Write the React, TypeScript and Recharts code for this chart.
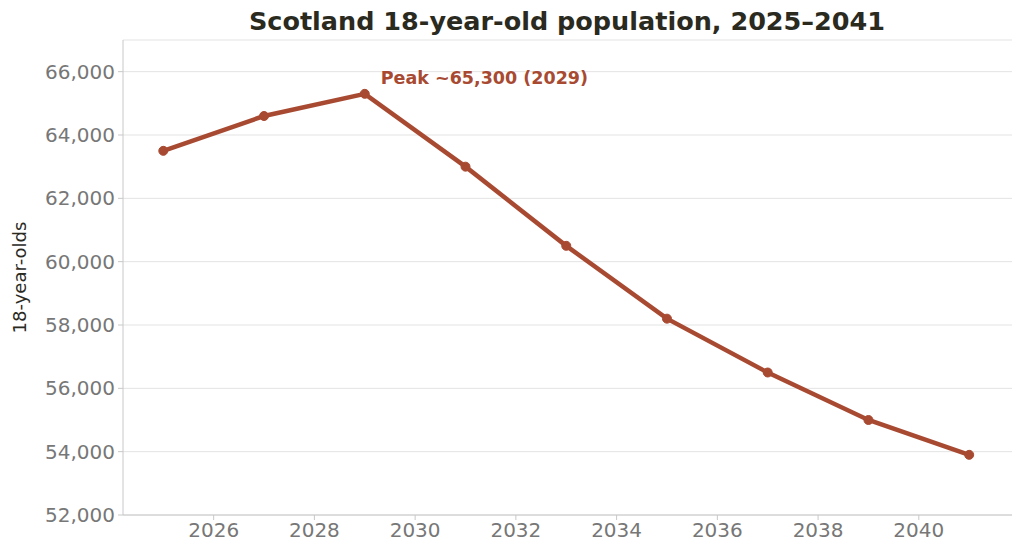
import React from 'react';
import {LineChart, Line, XAxis, YAxis, CartesianGrid, ReferenceDot} from 'recharts';

const years = [2025, 2027, 2029, 2031, 2033, 2035, 2037, 2039, 2041];
const population = [63500, 64600, 65300, 63000, 60500, 58200, 56500, 55000, 53900];
const xTicks = [2026, 2028, 2030, 2032, 2034, 2036, 2038, 2040];
const yTicks = [52000, 54000, 56000, 58000, 60000, 62000, 64000, 66000];

const data = years.map((year, i) => ({year, value: population[i]}));

const COLOR = '#a84a32';
const FONT = 'DejaVu Sans, sans-serif';

const PeakLabel = (props: any) => {
    const vb = props.viewBox || {};
    const cx = (vb.x ?? 0) + (vb.width ?? 0) / 2;
    const cy = (vb.y ?? 0) + (vb.height ?? 0) / 2;
    return (
        <text x={cx + 16} y={cy - 10} fill={COLOR} fontSize={17.5} fontWeight="bold" fontFamily={FONT}>
            Peak ~65,300 (2029)
        </text>
    );
};

export default function App() {
    return (
        <div style={{position: 'absolute', left: 0, top: 0, width: 1024, height: 559, background: '#fff', fontFamily: FONT}}>
            <LineChart width={1024} height={559} data={data} margin={{top: 40, right: 12, left: 0, bottom: 14}}>
                <CartesianGrid vertical={false} stroke="#e3e3e3"/>
                <XAxis
                    dataKey="year"
                    type="number"
                    domain={[2024.2, 2041.85]}
                    ticks={xTicks}
                    tick={{fill: '#777', fontSize: 20, fontFamily: FONT}}
                    stroke="#c8c8c8"
                    tickSize={5}
                    tickMargin={3}
                    allowDataOverflow
                />
                <YAxis
                    width={123}
                    domain={[52000, 67000]}
                    ticks={yTicks}
                    tickFormatter={(v: number) => v.toLocaleString('en-US')}
                    tick={{fill: '#777', fontSize: 20, fontFamily: FONT}}
                    stroke="#c8c8c8"
                    tickSize={5}
                    tickMargin={3}
                    allowDataOverflow
                    label={{value: '18-year-olds', angle: -90, position: 'insideLeft', offset: 20, style: {fill: '#2a2a1f', fontSize: 18, fontFamily: FONT, textAnchor: 'middle'}}}
                />
                <Line
                    type="linear"
                    dataKey="value"
                    stroke={COLOR}
                    strokeWidth={4.5}
                    dot={{r: 4.5, fill: COLOR, stroke: COLOR, strokeWidth: 1}}
                    isAnimationActive={false}
                />
                <ReferenceDot x={2029} y={65300} r={1} fill="none" stroke="none" label={<PeakLabel/>}/>
            </LineChart>
            <div style={{position: 'absolute', top: 6, left: 110, width: 914, textAlign: 'center', fontSize: 25.5, fontWeight: 'bold', color: '#2a2a1f'}}>
                Scotland 18-year-old population, 2025–2041
            </div>
        </div>
    );
}
